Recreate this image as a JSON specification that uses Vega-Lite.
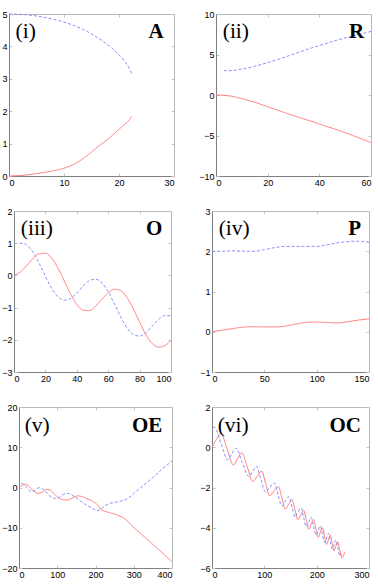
{
"$schema": "https://vega.github.io/schema/vega-lite/v6.json",
"padding": {"left": 1, "top": 10, "right": 0, "bottom": 0},
"background": "white",
"spacing": 20,
"config": {
  "view": {"stroke": null},
  "axis": {"labelFont": "Liberation Sans", "labelFontSize": 9, "labelColor": "#000000", "domainColor": "#808080", "tickColor": "#c4c4c4", "tickSize": -3, "grid": false, "title": null, "labelPadding": 5},
  "text": {"font": "Liberation Serif", "fontSize": 21.5, "color": "#000000", "baseline": "alphabetic"}
},
"datasets": {
  "p1": [
    {"x":0,"y":0,"s":"r"},{"x":2,"y":0.015,"s":"r"},{"x":4,"y":0.05,"s":"r"},{"x":6,"y":0.1,"s":"r"},{"x":8,"y":0.16,"s":"r"},{"x":10,"y":0.24,"s":"r"},{"x":12,"y":0.38,"s":"r"},{"x":14,"y":0.6,"s":"r"},{"x":16,"y":0.88,"s":"r"},{"x":18,"y":1.14,"s":"r"},{"x":20,"y":1.44,"s":"r"},{"x":22,"y":1.76,"s":"r"},{"x":22.3,"y":1.83,"s":"r"},
    {"x":0,"y":5,"s":"b"},{"x":2,"y":4.99,"s":"b"},{"x":4,"y":4.96,"s":"b"},{"x":6,"y":4.91,"s":"b"},{"x":8,"y":4.84,"s":"b"},{"x":10,"y":4.75,"s":"b"},{"x":12,"y":4.63,"s":"b"},{"x":14,"y":4.48,"s":"b"},{"x":16,"y":4.28,"s":"b"},{"x":18,"y":4.04,"s":"b"},{"x":20,"y":3.74,"s":"b"},{"x":21,"y":3.55,"s":"b"},{"x":22,"y":3.28,"s":"b"},{"x":22.3,"y":3.17,"s":"b"}
  ],
  "p2": [
    {"x":0,"y":0,"s":"r"},{"x":5,"y":-0.1,"s":"r"},{"x":10,"y":-0.45,"s":"r"},{"x":15,"y":-0.9,"s":"r"},{"x":20,"y":-1.45,"s":"r"},{"x":25,"y":-2,"s":"r"},{"x":30,"y":-2.55,"s":"r"},{"x":35,"y":-3.05,"s":"r"},{"x":40,"y":-3.58,"s":"r"},{"x":45,"y":-4.1,"s":"r"},{"x":50,"y":-4.65,"s":"r"},{"x":55,"y":-5.25,"s":"r"},{"x":60,"y":-5.85,"s":"r"},
    {"x":3,"y":3,"s":"b"},{"x":5,"y":3,"s":"b"},{"x":10,"y":3.2,"s":"b"},{"x":15,"y":3.55,"s":"b"},{"x":20,"y":4,"s":"b"},{"x":25,"y":4.5,"s":"b"},{"x":30,"y":5.05,"s":"b"},{"x":35,"y":5.6,"s":"b"},{"x":40,"y":6.1,"s":"b"},{"x":45,"y":6.6,"s":"b"},{"x":50,"y":7.05,"s":"b"},{"x":55,"y":7.45,"s":"b"},{"x":60,"y":7.85,"s":"b"}
  ],
  "p3": [
    {"x":0,"y":0,"s":"r"},{"x":4,"y":0.105,"s":"r"},{"x":8,"y":0.299,"s":"r"},{"x":12,"y":0.519,"s":"r"},{"x":16,"y":0.671,"s":"r"},{"x":20,"y":0.687,"s":"r"},{"x":24,"y":0.535,"s":"r"},{"x":28,"y":0.23,"s":"r"},{"x":32,"y":-0.169,"s":"r"},{"x":36,"y":-0.575,"s":"r"},{"x":40,"y":-0.902,"s":"r"},{"x":44,"y":-1.081,"s":"r"},{"x":48,"y":-1.091,"s":"r"},{"x":52,"y":-0.956,"s":"r"},{"x":56,"y":-0.742,"s":"r"},{"x":60,"y":-0.538,"s":"r"},{"x":64,"y":-0.43,"s":"r"},{"x":68,"y":-0.475,"s":"r"},{"x":72,"y":-0.688,"s":"r"},{"x":76,"y":-1.038,"s":"r"},{"x":80,"y":-1.45,"s":"r"},{"x":84,"y":-1.837,"s":"r"},{"x":88,"y":-2.114,"s":"r"},{"x":92,"y":-2.229,"s":"r"},{"x":96,"y":-2.183,"s":"r"},{"x":100,"y":-2.006,"s":"r"},
    {"x":3.5,"y":0.993,"s":"b"},{"x":6,"y":0.995,"s":"b"},{"x":8,"y":0.944,"s":"b"},{"x":12,"y":0.726,"s":"b"},{"x":16,"y":0.379,"s":"b"},{"x":20,"y":-0.026,"s":"b"},{"x":24,"y":-0.4,"s":"b"},{"x":28,"y":-0.664,"s":"b"},{"x":32,"y":-0.771,"s":"b"},{"x":36,"y":-0.713,"s":"b"},{"x":40,"y":-0.545,"s":"b"},{"x":44,"y":-0.331,"s":"b"},{"x":48,"y":-0.164,"s":"b"},{"x":52,"y":-0.119,"s":"b"},{"x":56,"y":-0.235,"s":"b"},{"x":60,"y":-0.508,"s":"b"},{"x":64,"y":-0.887,"s":"b"},{"x":68,"y":-1.29,"s":"b"},{"x":72,"y":-1.632,"s":"b"},{"x":76,"y":-1.84,"s":"b"},{"x":80,"y":-1.886,"s":"b"},{"x":84,"y":-1.781,"s":"b"},{"x":88,"y":-1.581,"s":"b"},{"x":92,"y":-1.375,"s":"b"},{"x":96,"y":-1.246,"s":"b"},{"x":100,"y":-1.259,"s":"b"}
  ],
  "p4": [
    {"x":0,"y":0,"s":"r"},{"x":10,"y":0.04,"s":"r"},{"x":20,"y":0.08,"s":"r"},{"x":30,"y":0.115,"s":"r"},{"x":40,"y":0.125,"s":"r"},{"x":50,"y":0.12,"s":"r"},{"x":60,"y":0.12,"s":"r"},{"x":70,"y":0.14,"s":"r"},{"x":80,"y":0.19,"s":"r"},{"x":90,"y":0.23,"s":"r"},{"x":100,"y":0.24,"s":"r"},{"x":110,"y":0.23,"s":"r"},{"x":120,"y":0.22,"s":"r"},{"x":130,"y":0.25,"s":"r"},{"x":140,"y":0.29,"s":"r"},{"x":150,"y":0.32,"s":"r"},
    {"x":0,"y":2,"s":"b"},{"x":10,"y":2,"s":"b"},{"x":20,"y":2.01,"s":"b"},{"x":30,"y":2,"s":"b"},{"x":40,"y":2,"s":"b"},{"x":50,"y":2.04,"s":"b"},{"x":60,"y":2.09,"s":"b"},{"x":70,"y":2.12,"s":"b"},{"x":80,"y":2.12,"s":"b"},{"x":90,"y":2.12,"s":"b"},{"x":100,"y":2.12,"s":"b"},{"x":110,"y":2.16,"s":"b"},{"x":120,"y":2.21,"s":"b"},{"x":130,"y":2.24,"s":"b"},{"x":140,"y":2.25,"s":"b"},{"x":150,"y":2.22,"s":"b"}
  ],
  "p5": [
    {"x":0,"y":0,"s":"r"},{"x":8,"y":0.5,"s":"r"},{"x":17,"y":0.8,"s":"r"},{"x":26,"y":0.3,"s":"r"},{"x":36,"y":-0.7,"s":"r"},{"x":45,"y":-1.3,"s":"r"},{"x":52,"y":-1.45,"s":"r"},{"x":60,"y":-1.2,"s":"r"},{"x":67,"y":-0.7,"s":"r"},{"x":74,"y":-0.45,"s":"r"},{"x":82,"y":-0.7,"s":"r"},{"x":92,"y":-1.6,"s":"r"},{"x":102,"y":-2.5,"s":"r"},{"x":114,"y":-3,"s":"r"},{"x":126,"y":-3.1,"s":"r"},{"x":138,"y":-2.7,"s":"r"},{"x":148,"y":-2.2,"s":"r"},{"x":156,"y":-2.1,"s":"r"},{"x":166,"y":-2.3,"s":"r"},{"x":178,"y":-2.8,"s":"r"},{"x":190,"y":-3.3,"s":"r"},{"x":200,"y":-3.9,"s":"r"},{"x":208,"y":-4.6,"s":"r"},{"x":215,"y":-5.5,"s":"r"},{"x":228,"y":-6,"s":"r"},{"x":241,"y":-6.4,"s":"r"},{"x":256,"y":-6.8,"s":"r"},{"x":272,"y":-7.5,"s":"r"},{"x":300,"y":-9.9,"s":"r"},{"x":330,"y":-12.45,"s":"r"},{"x":360,"y":-15,"s":"r"},{"x":400,"y":-18.4,"s":"r"},
    {"x":5,"y":1,"s":"b"},{"x":12,"y":0.8,"s":"b"},{"x":20,"y":0,"s":"b"},{"x":27,"y":-0.7,"s":"b"},{"x":33,"y":-1,"s":"b"},{"x":40,"y":-0.8,"s":"b"},{"x":47,"y":-0.3,"s":"b"},{"x":54,"y":0,"s":"b"},{"x":60,"y":-0.2,"s":"b"},{"x":68,"y":-0.9,"s":"b"},{"x":78,"y":-1.9,"s":"b"},{"x":88,"y":-2.55,"s":"b"},{"x":96,"y":-2.7,"s":"b"},{"x":105,"y":-2.4,"s":"b"},{"x":115,"y":-1.8,"s":"b"},{"x":124,"y":-1.45,"s":"b"},{"x":133,"y":-1.6,"s":"b"},{"x":145,"y":-2.3,"s":"b"},{"x":160,"y":-3.3,"s":"b"},{"x":175,"y":-4.3,"s":"b"},{"x":190,"y":-5.1,"s":"b"},{"x":206,"y":-5.75,"s":"b"},{"x":215,"y":-5.3,"s":"b"},{"x":225,"y":-4.5,"s":"b"},{"x":235,"y":-4,"s":"b"},{"x":250,"y":-3.7,"s":"b"},{"x":265,"y":-3.4,"s":"b"},{"x":285,"y":-2.7,"s":"b"},{"x":300,"y":-1.5,"s":"b"},{"x":325,"y":0.5,"s":"b"},{"x":350,"y":2.5,"s":"b"},{"x":375,"y":4.6,"s":"b"},{"x":400,"y":6.6,"s":"b"}
  ],
  "p6": [
    {"x":0,"y":0,"s":"r"},{"x":8,"y":0.38,"s":"r"},{"x":17,"y":0.69,"s":"r"},{"x":29,"y":-0.1,"s":"r"},{"x":41,"y":-0.88,"s":"r"},{"x":49,"y":-0.57,"s":"r"},{"x":57,"y":-0.27,"s":"r"},{"x":67.5,"y":-0.99,"s":"r"},{"x":78,"y":-1.7,"s":"r"},{"x":86.5,"y":-1.43,"s":"r"},{"x":95,"y":-1.18,"s":"r"},{"x":102.5,"y":-1.8,"s":"r"},{"x":110,"y":-2.41,"s":"r"},{"x":118.5,"y":-2.18,"s":"r"},{"x":127,"y":-1.95,"s":"r"},{"x":133.5,"y":-2.52,"s":"r"},{"x":140,"y":-3.08,"s":"r"},{"x":146.5,"y":-2.83,"s":"r"},{"x":153,"y":-2.6,"s":"r"},{"x":158.5,"y":-3.1,"s":"r"},{"x":164,"y":-3.6,"s":"r"},{"x":169.5,"y":-3.36,"s":"r"},{"x":175,"y":-3.13,"s":"r"},{"x":180,"y":-3.6,"s":"r"},{"x":185,"y":-4.07,"s":"r"},{"x":189.5,"y":-3.82,"s":"r"},{"x":194,"y":-3.59,"s":"r"},{"x":198.5,"y":-4.03,"s":"r"},{"x":203,"y":-4.47,"s":"r"},{"x":207,"y":-4.23,"s":"r"},{"x":211,"y":-4,"s":"r"},{"x":215,"y":-4.42,"s":"r"},{"x":219,"y":-4.83,"s":"r"},{"x":222.5,"y":-4.59,"s":"r"},{"x":226,"y":-4.36,"s":"r"},{"x":229.5,"y":-4.75,"s":"r"},{"x":233,"y":-5.14,"s":"r"},{"x":236.5,"y":-4.91,"s":"r"},{"x":240,"y":-4.69,"s":"r"},{"x":244,"y":-5.09,"s":"r"},{"x":248,"y":-5.49,"s":"r"},{"x":254,"y":-5.19,"s":"r"},
    {"x":2,"y":1,"s":"b"},{"x":5,"y":0.99,"s":"b"},{"x":17.5,"y":0.17,"s":"b"},{"x":30,"y":-0.62,"s":"b"},{"x":38,"y":-0.31,"s":"b"},{"x":46,"y":-0.05,"s":"b"},{"x":58,"y":-0.77,"s":"b"},{"x":70,"y":-1.45,"s":"b"},{"x":77.5,"y":-1.22,"s":"b"},{"x":85,"y":-0.95,"s":"b"},{"x":93.5,"y":-1.6,"s":"b"},{"x":102,"y":-2.22,"s":"b"},{"x":110.5,"y":-1.99,"s":"b"},{"x":119,"y":-1.77,"s":"b"},{"x":126,"y":-2.35,"s":"b"},{"x":133.5,"y":-2.92,"s":"b"},{"x":140,"y":-2.68,"s":"b"},{"x":147,"y":-2.46,"s":"b"},{"x":153,"y":-2.98,"s":"b"},{"x":158.5,"y":-3.47,"s":"b"},{"x":164,"y":-3.23,"s":"b"},{"x":170,"y":-3.01,"s":"b"},{"x":175,"y":-3.49,"s":"b"},{"x":180,"y":-3.95,"s":"b"},{"x":185,"y":-3.72,"s":"b"},{"x":189.5,"y":-3.48,"s":"b"},{"x":194,"y":-3.93,"s":"b"},{"x":199,"y":-4.37,"s":"b"},{"x":203,"y":-4.14,"s":"b"},{"x":207,"y":-3.91,"s":"b"},{"x":211,"y":-4.32,"s":"b"},{"x":215,"y":-4.73,"s":"b"},{"x":219,"y":-4.51,"s":"b"},{"x":222.5,"y":-4.28,"s":"b"},{"x":226,"y":-4.67,"s":"b"},{"x":229.5,"y":-5.06,"s":"b"},{"x":233,"y":-4.83,"s":"b"},{"x":236.5,"y":-4.61,"s":"b"},{"x":240.5,"y":-5.01,"s":"b"},{"x":244.5,"y":-5.4,"s":"b"},{"x":248,"y":-5.3,"s":"b"}
  ]
},
"vconcat": [
 {"spacing": 42, "bounds": "flush", "hconcat": [
  {"width": 165, "height": 162, "resolve": {"scale": {"x": "independent", "y": "independent"}},
   "layer": [
    {"data": {"name": "p1"}, "mark": {"type": "line", "strokeWidth": 1, "interpolate": "monotone"},
     "encoding": {
      "x": {"field": "x", "type": "quantitative", "scale": {"domain": [0, 30], "nice": false, "zero": false}, "axis": {"orient": "bottom", "values": [0, 10, 20, 30]}},
      "y": {"field": "y", "type": "quantitative", "scale": {"domain": [0, 5], "nice": false, "zero": false}, "axis": {"orient": "left", "values": [0, 1, 2, 3, 4, 5]}},
      "color": {"field": "s", "type": "nominal", "scale": {"domain": ["r", "b"], "range": ["#ff7a7a", "#8c8cff"]}, "legend": null},
      "strokeDash": {"field": "s", "type": "nominal", "scale": {"domain": ["r", "b"], "range": [[1, 0], [3, 2]]}, "legend": null}}},
    {"data": {"values": [{"x": 1.2, "y": 4.26, "t": "(i)"}]}, "mark": {"type": "text", "align": "left"},
     "encoding": {
      "x": {"field": "x", "type": "quantitative", "scale": {"domain": [0, 30], "nice": false, "zero": false}, "axis": {"orient": "top", "values": [0, 10, 20, 30], "labels": false, "domainColor": "#b8b8b8"}},
      "y": {"field": "y", "type": "quantitative", "scale": {"domain": [0, 5], "nice": false, "zero": false}, "axis": {"orient": "right", "values": [0, 1, 2, 3, 4, 5], "labels": false, "domainColor": "#b8b8b8"}},
      "text": {"field": "t"}}},
    {"data": {"values": [{"x": 28.1, "y": 4.26, "t": "A"}]}, "mark": {"type": "text", "align": "right", "fontWeight": "bold", "fontSize": 21},
     "encoding": {
      "x": {"field": "x", "type": "quantitative", "scale": {"domain": [0, 30], "nice": false, "zero": false}, "axis": null},
      "y": {"field": "y", "type": "quantitative", "scale": {"domain": [0, 5], "nice": false, "zero": false}, "axis": null},
      "text": {"field": "t"}}}
   ]},
  {"width": 155, "height": 162, "resolve": {"scale": {"x": "independent", "y": "independent"}},
   "layer": [
    {"data": {"name": "p2"}, "mark": {"type": "line", "strokeWidth": 1, "interpolate": "monotone"},
     "encoding": {
      "x": {"field": "x", "type": "quantitative", "scale": {"domain": [0, 60], "nice": false, "zero": false}, "axis": {"orient": "bottom", "values": [0, 20, 40, 60]}},
      "y": {"field": "y", "type": "quantitative", "scale": {"domain": [-10, 10], "nice": false, "zero": false}, "axis": {"orient": "left", "values": [-10, -5, 0, 5, 10]}},
      "color": {"field": "s", "type": "nominal", "scale": {"domain": ["r", "b"], "range": ["#ff7a7a", "#8c8cff"]}, "legend": null},
      "strokeDash": {"field": "s", "type": "nominal", "scale": {"domain": ["r", "b"], "range": [[1, 0], [3, 2]]}, "legend": null}}},
    {"data": {"values": [{"x": 2.6, "y": 7.04, "t": "(ii)"}]}, "mark": {"type": "text", "align": "left"},
     "encoding": {
      "x": {"field": "x", "type": "quantitative", "scale": {"domain": [0, 60], "nice": false, "zero": false}, "axis": {"orient": "top", "values": [0, 20, 40, 60], "labels": false, "domainColor": "#b8b8b8"}},
      "y": {"field": "y", "type": "quantitative", "scale": {"domain": [-10, 10], "nice": false, "zero": false}, "axis": {"orient": "right", "values": [-10, -5, 0, 5, 10], "labels": false, "domainColor": "#b8b8b8"}},
      "text": {"field": "t"}}},
    {"data": {"values": [{"x": 57.4, "y": 7.04, "t": "R"}]}, "mark": {"type": "text", "align": "right", "fontWeight": "bold", "fontSize": 21},
     "encoding": {
      "x": {"field": "x", "type": "quantitative", "scale": {"domain": [0, 60], "nice": false, "zero": false}, "axis": null},
      "y": {"field": "y", "type": "quantitative", "scale": {"domain": [-10, 10], "nice": false, "zero": false}, "axis": null},
      "text": {"field": "t"}}}
   ]}
 ]},
 {"spacing": 41, "bounds": "flush", "hconcat": [
  {"width": 162, "height": 161, "resolve": {"scale": {"x": "independent", "y": "independent"}},
   "layer": [
    {"data": {"name": "p3"}, "mark": {"type": "line", "strokeWidth": 1, "interpolate": "monotone"},
     "encoding": {
      "x": {"field": "x", "type": "quantitative", "scale": {"domain": [0, 100], "nice": false, "zero": false, "range": [5, 162]}, "axis": {"orient": "bottom", "values": [0, 20, 40, 60, 80, 100]}},
      "y": {"field": "y", "type": "quantitative", "scale": {"domain": [-3, 2], "nice": false, "zero": false}, "axis": {"orient": "left", "offset": -5, "values": [-3, -2, -1, 0, 1, 2]}},
      "color": {"field": "s", "type": "nominal", "scale": {"domain": ["r", "b"], "range": ["#ff7a7a", "#8c8cff"]}, "legend": null},
      "strokeDash": {"field": "s", "type": "nominal", "scale": {"domain": ["r", "b"], "range": [[1, 0], [3, 2]]}, "legend": null}}},
    {"data": {"values": [{"x": 4.3, "y": 1.26, "t": "(iii)"}]}, "mark": {"type": "text", "align": "left"},
     "encoding": {
      "x": {"field": "x", "type": "quantitative", "scale": {"domain": [0, 100], "nice": false, "zero": false, "range": [5, 162]}, "axis": {"orient": "top", "values": [0, 20, 40, 60, 80, 100], "labels": false, "domainColor": "#b8b8b8"}},
      "y": {"field": "y", "type": "quantitative", "scale": {"domain": [-3, 2], "nice": false, "zero": false}, "axis": {"orient": "right", "values": [-3, -2, -1, 0, 1, 2], "labels": false, "domainColor": "#b8b8b8"}},
      "text": {"field": "t"}}},
    {"data": {"values": [{"x": 94.5, "y": 1.26, "t": "O"}]}, "mark": {"type": "text", "align": "right", "fontWeight": "bold", "fontSize": 21},
     "encoding": {
      "x": {"field": "x", "type": "quantitative", "scale": {"domain": [0, 100], "nice": false, "zero": false, "range": [5, 162]}, "axis": null},
      "y": {"field": "y", "type": "quantitative", "scale": {"domain": [-3, 2], "nice": false, "zero": false}, "axis": null},
      "text": {"field": "t"}}}
   ]},
  {"width": 157, "height": 161, "resolve": {"scale": {"x": "independent", "y": "independent"}},
   "layer": [
    {"data": {"name": "p4"}, "mark": {"type": "line", "strokeWidth": 1, "interpolate": "monotone"},
     "encoding": {
      "x": {"field": "x", "type": "quantitative", "scale": {"domain": [0, 150], "nice": false, "zero": false}, "axis": {"orient": "bottom", "values": [0, 50, 100, 150]}},
      "y": {"field": "y", "type": "quantitative", "scale": {"domain": [-1, 3], "nice": false, "zero": false}, "axis": {"orient": "left", "values": [-1, 0, 1, 2, 3]}},
      "color": {"field": "s", "type": "nominal", "scale": {"domain": ["r", "b"], "range": ["#ff7a7a", "#8c8cff"]}, "legend": null},
      "strokeDash": {"field": "s", "type": "nominal", "scale": {"domain": ["r", "b"], "range": [[1, 0], [3, 2]]}, "legend": null}}},
    {"data": {"values": [{"x": 6.4, "y": 2.4, "t": "(iv)"}]}, "mark": {"type": "text", "align": "left"},
     "encoding": {
      "x": {"field": "x", "type": "quantitative", "scale": {"domain": [0, 150], "nice": false, "zero": false}, "axis": {"orient": "top", "values": [0, 50, 100, 150], "labels": false, "domainColor": "#b8b8b8"}},
      "y": {"field": "y", "type": "quantitative", "scale": {"domain": [-1, 3], "nice": false, "zero": false}, "axis": {"orient": "right", "values": [-1, 0, 1, 2, 3], "labels": false, "domainColor": "#b8b8b8"}},
      "text": {"field": "t"}}},
    {"data": {"values": [{"x": 142.4, "y": 2.4, "t": "P"}]}, "mark": {"type": "text", "align": "right", "fontWeight": "bold", "fontSize": 21},
     "encoding": {
      "x": {"field": "x", "type": "quantitative", "scale": {"domain": [0, 150], "nice": false, "zero": false}, "axis": null},
      "y": {"field": "y", "type": "quantitative", "scale": {"domain": [-1, 3], "nice": false, "zero": false}, "axis": null},
      "text": {"field": "t"}}}
   ]}
 ]},
 {"spacing": 40, "bounds": "flush", "hconcat": [
  {"width": 163, "height": 161, "resolve": {"scale": {"x": "independent", "y": "independent"}},
   "layer": [
    {"data": {"name": "p5"}, "mark": {"type": "line", "strokeWidth": 1, "interpolate": "monotone"},
     "encoding": {
      "x": {"field": "x", "type": "quantitative", "scale": {"domain": [0, 400], "nice": false, "zero": false, "range": [10, 163]}, "axis": {"orient": "bottom", "values": [0, 100, 200, 300, 400]}},
      "y": {"field": "y", "type": "quantitative", "scale": {"domain": [-20, 20], "nice": false, "zero": false}, "axis": {"orient": "left", "offset": -10, "values": [-20, -10, 0, 10, 20]}},
      "color": {"field": "s", "type": "nominal", "scale": {"domain": ["r", "b"], "range": ["#ff7a7a", "#8c8cff"]}, "legend": null},
      "strokeDash": {"field": "s", "type": "nominal", "scale": {"domain": ["r", "b"], "range": [[1, 0], [3, 2]]}, "legend": null}}},
    {"data": {"values": [{"x": 14.9, "y": 13.86, "t": "(v)"}]}, "mark": {"type": "text", "align": "left"},
     "encoding": {
      "x": {"field": "x", "type": "quantitative", "scale": {"domain": [0, 400], "nice": false, "zero": false, "range": [10, 163]}, "axis": {"orient": "top", "values": [0, 100, 200, 300, 400], "labels": false, "domainColor": "#b8b8b8"}},
      "y": {"field": "y", "type": "quantitative", "scale": {"domain": [-20, 20], "nice": false, "zero": false}, "axis": {"orient": "right", "values": [-20, -10, 0, 10, 20], "labels": false, "domainColor": "#b8b8b8"}},
      "text": {"field": "t"}}},
    {"data": {"values": [{"x": 374.6, "y": 13.86, "t": "OE"}]}, "mark": {"type": "text", "align": "right", "fontWeight": "bold", "fontSize": 21},
     "encoding": {
      "x": {"field": "x", "type": "quantitative", "scale": {"domain": [0, 400], "nice": false, "zero": false, "range": [10, 163]}, "axis": null},
      "y": {"field": "y", "type": "quantitative", "scale": {"domain": [-20, 20], "nice": false, "zero": false}, "axis": null},
      "text": {"field": "t"}}}
   ]},
  {"width": 157, "height": 161, "resolve": {"scale": {"x": "independent", "y": "independent"}},
   "layer": [
    {"data": {"name": "p6"}, "mark": {"type": "line", "strokeWidth": 1, "interpolate": "monotone"},
     "encoding": {
      "x": {"field": "x", "type": "quantitative", "scale": {"domain": [0, 300], "nice": false, "zero": false}, "axis": {"orient": "bottom", "values": [0, 100, 200, 300]}},
      "y": {"field": "y", "type": "quantitative", "scale": {"domain": [-6, 2], "nice": false, "zero": false}, "axis": {"orient": "left", "values": [-6, -4, -2, 0, 2]}},
      "color": {"field": "s", "type": "nominal", "scale": {"domain": ["r", "b"], "range": ["#ff7a7a", "#8c8cff"]}, "legend": null},
      "strokeDash": {"field": "s", "type": "nominal", "scale": {"domain": ["r", "b"], "range": [[1, 0], [3, 2]]}, "legend": null}}},
    {"data": {"values": [{"x": 10.9, "y": 0.77, "t": "(vi)"}]}, "mark": {"type": "text", "align": "left"},
     "encoding": {
      "x": {"field": "x", "type": "quantitative", "scale": {"domain": [0, 300], "nice": false, "zero": false}, "axis": {"orient": "top", "values": [0, 100, 200, 300], "labels": false, "domainColor": "#b8b8b8"}},
      "y": {"field": "y", "type": "quantitative", "scale": {"domain": [-6, 2], "nice": false, "zero": false}, "axis": {"orient": "right", "values": [-6, -4, -2, 0, 2], "labels": false, "domainColor": "#b8b8b8"}},
      "text": {"field": "t"}}},
    {"data": {"values": [{"x": 284.7, "y": 0.77, "t": "OC"}]}, "mark": {"type": "text", "align": "right", "fontWeight": "bold", "fontSize": 21},
     "encoding": {
      "x": {"field": "x", "type": "quantitative", "scale": {"domain": [0, 300], "nice": false, "zero": false}, "axis": null},
      "y": {"field": "y", "type": "quantitative", "scale": {"domain": [-6, 2], "nice": false, "zero": false}, "axis": null},
      "text": {"field": "t"}}}
   ]}
 ]}
]
}
